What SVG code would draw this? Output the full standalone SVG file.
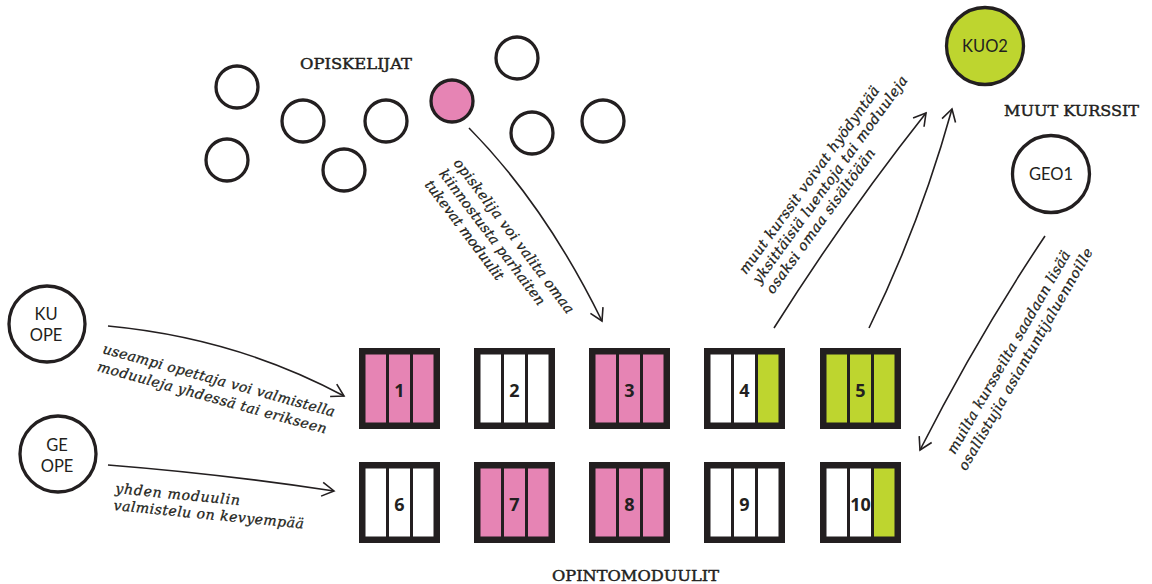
<svg xmlns="http://www.w3.org/2000/svg" width="1152" height="584" viewBox="0 0 1152 584">
  <style>
    .ring{fill:#fff;stroke:#231f20;stroke-width:3.3}
    .ring.pk{fill:#e684b4}
    .ring.gn{fill:#bed52f}
    .frame{fill:#231f20}
    .pk{fill:#e684b4}
    .gn{fill:#bed52f}
    .wt{fill:#fff}
    .num{font-family:"Open Sans","Liberation Sans",sans-serif;font-weight:700;font-size:18px;fill:#231f20;text-anchor:middle}
    .tag{font-family:Lato,"Open Sans","Liberation Sans",sans-serif;font-size:16.5px;fill:#231f20;text-anchor:middle}
    .head{font-family:"DejaVu Serif","Liberation Serif",serif;font-size:15px;fill:#231f20;stroke:#231f20;stroke-width:0.45}
    .note{font-family:"DejaVu Serif","Liberation Serif",serif;font-style:italic;font-size:14px;fill:#231f20;stroke:#231f20;stroke-width:0.3}
    .link{fill:none;stroke:#231f20;stroke-width:1.6}
  </style>
  <defs>
    <marker id="chev" markerUnits="userSpaceOnUse" markerWidth="16" markerHeight="16" refX="12" refY="7" orient="auto" viewBox="-1 -1 15 16">
      <path d="M0,0 L12,7 L0,14" fill="none" stroke="#231f20" stroke-width="1.6"/>
    </marker>
  </defs>
  <rect width="1152" height="584" fill="#fff"/>

  <!-- section headings -->
  <text class="head" x="300" y="69" textLength="112" lengthAdjust="spacingAndGlyphs">OPISKELIJAT</text>
  <text class="head" x="1004" y="116" textLength="135" lengthAdjust="spacingAndGlyphs">MUUT KURSSIT</text>
  <text class="head" x="552" y="581" font-size="14" textLength="167" lengthAdjust="spacingAndGlyphs">OPINTOMODUULIT</text>

  <!-- students -->
  <g id="students">
    <circle class="ring" cx="237" cy="87" r="21"/>
    <circle class="ring" cx="303" cy="121" r="21"/>
    <circle class="ring" cx="386" cy="121" r="21"/>
    <circle class="ring pk" cx="452" cy="101" r="21"/>
    <circle class="ring" cx="227" cy="160" r="21"/>
    <circle class="ring" cx="344" cy="170" r="21"/>
    <circle class="ring" cx="517" cy="58" r="21"/>
    <circle class="ring" cx="532" cy="133" r="21"/>
    <circle class="ring" cx="603" cy="121" r="21"/>
  </g>

  <!-- teachers -->
  <g id="ku-ope">
    <circle class="ring" cx="47" cy="324" r="38"/>
    <text class="tag" x="46" y="319.5">KU</text>
    <text class="tag" x="46" y="340.5">OPE</text>
  </g>
  <g id="ge-ope">
    <circle class="ring" cx="58" cy="454" r="38"/>
    <text class="tag" x="57" y="451">GE</text>
    <text class="tag" x="57" y="472">OPE</text>
  </g>

  <!-- other courses -->
  <g id="kuo2">
    <circle class="ring gn" cx="985" cy="46" r="38.5"/>
    <text class="tag" x="985" y="52">KUO2</text>
  </g>
  <g id="geo1">
    <circle class="ring" cx="1051" cy="174" r="38.5"/>
    <text class="tag" x="1051" y="180">GEO1</text>
  </g>

  <!-- study modules: black frame with three lecture slots -->
  <g id="module-1" transform="translate(359,348)">
    <rect class="frame" width="81" height="81"/>
    <rect class="pk" x="6.5" y="6.5" width="20.5" height="68"/>
    <rect class="pk" x="30" y="6.5" width="21" height="68"/>
    <rect class="pk" x="54" y="6.5" width="20.5" height="68"/>
    <text class="num" x="40.5" y="49">1</text>
  </g>
  <g id="module-2" transform="translate(474,348)">
    <rect class="frame" width="81" height="81"/>
    <rect class="wt" x="6.5" y="6.5" width="20.5" height="68"/>
    <rect class="wt" x="30" y="6.5" width="21" height="68"/>
    <rect class="wt" x="54" y="6.5" width="20.5" height="68"/>
    <text class="num" x="40.5" y="49">2</text>
  </g>
  <g id="module-3" transform="translate(589,348)">
    <rect class="frame" width="81" height="81"/>
    <rect class="pk" x="6.5" y="6.5" width="20.5" height="68"/>
    <rect class="pk" x="30" y="6.5" width="21" height="68"/>
    <rect class="pk" x="54" y="6.5" width="20.5" height="68"/>
    <text class="num" x="40.5" y="49">3</text>
  </g>
  <g id="module-4" transform="translate(704,348)">
    <rect class="frame" width="81" height="81"/>
    <rect class="wt" x="6.5" y="6.5" width="20.5" height="68"/>
    <rect class="wt" x="30" y="6.5" width="21" height="68"/>
    <rect class="gn" x="54" y="6.5" width="20.5" height="68"/>
    <text class="num" x="40.5" y="49">4</text>
  </g>
  <g id="module-5" transform="translate(820,348)">
    <rect class="frame" width="81" height="81"/>
    <rect class="gn" x="6.5" y="6.5" width="20.5" height="68"/>
    <rect class="gn" x="30" y="6.5" width="21" height="68"/>
    <rect class="gn" x="54" y="6.5" width="20.5" height="68"/>
    <text class="num" x="40.5" y="49">5</text>
  </g>
  <g id="module-6" transform="translate(359,462)">
    <rect class="frame" width="81" height="81"/>
    <rect class="wt" x="6.5" y="6.5" width="20.5" height="68"/>
    <rect class="wt" x="30" y="6.5" width="21" height="68"/>
    <rect class="wt" x="54" y="6.5" width="20.5" height="68"/>
    <text class="num" x="40.5" y="49">6</text>
  </g>
  <g id="module-7" transform="translate(474,462)">
    <rect class="frame" width="81" height="81"/>
    <rect class="pk" x="6.5" y="6.5" width="20.5" height="68"/>
    <rect class="pk" x="30" y="6.5" width="21" height="68"/>
    <rect class="pk" x="54" y="6.5" width="20.5" height="68"/>
    <text class="num" x="40.5" y="49">7</text>
  </g>
  <g id="module-8" transform="translate(589,462)">
    <rect class="frame" width="81" height="81"/>
    <rect class="pk" x="6.5" y="6.5" width="20.5" height="68"/>
    <rect class="pk" x="30" y="6.5" width="21" height="68"/>
    <rect class="pk" x="54" y="6.5" width="20.5" height="68"/>
    <text class="num" x="40.5" y="49">8</text>
  </g>
  <g id="module-9" transform="translate(704,462)">
    <rect class="frame" width="81" height="81"/>
    <rect class="wt" x="6.5" y="6.5" width="20.5" height="68"/>
    <rect class="wt" x="30" y="6.5" width="21" height="68"/>
    <rect class="wt" x="54" y="6.5" width="20.5" height="68"/>
    <text class="num" x="40.5" y="49">9</text>
  </g>
  <g id="module-10" transform="translate(820,462)">
    <rect class="frame" width="81" height="81"/>
    <rect class="wt" x="6.5" y="6.5" width="20.5" height="68"/>
    <rect class="wt" x="30" y="6.5" width="21" height="68"/>
    <rect class="gn" x="54" y="6.5" width="20.5" height="68"/>
    <text class="num" x="40.5" y="49">10</text>
  </g>

  <!-- connectors -->
  <g id="connectors">
    <path class="link" d="M469,128 Q545,205 602,321" marker-end="url(#chev)"/>
    <path class="link" d="M108,326 Q236,338 344,396" marker-end="url(#chev)"/>
    <path class="link" d="M108,465 Q222,474 334,491" marker-end="url(#chev)"/>
    <path class="link" d="M774,328 Q846,214 926,113" marker-end="url(#chev)"/>
    <path class="link" d="M869,328 Q920,224 952,109" marker-end="url(#chev)"/>
    <path class="link" d="M1045,236 Q978,336 920,450" marker-end="url(#chev)"/>
  </g>

  <!-- connector labels -->
  <g id="labels" class="note">
    <text transform="translate(453,163) rotate(53)">
      <tspan x="0" y="0" textLength="190">opiskelija voi valita omaa</tspan>
      <tspan x="0" y="18" textLength="166">kiinnostusta parhaiten</tspan>
      <tspan x="0" y="36" textLength="121">tukevat moduulit</tspan>
    </text>
    <text transform="translate(746,275) rotate(-54)">
      <tspan x="0" y="0" textLength="228">muut kurssit voivat hyödyntää</tspan>
      <tspan x="0" y="16.7" textLength="253">yksittäisiä luentoja tai moduuleja</tspan>
      <tspan x="0" y="33.4" textLength="175">osaksi omaa sisältöään</tspan>
    </text>
    <text transform="translate(1014,352.5) rotate(-60)" text-anchor="middle">
      <tspan x="0" y="0" textLength="232">muilta kursseilta saadaan lisää</tspan>
      <tspan x="0" y="18" textLength="254">osallistujia asiantuntijaluennoille</tspan>
    </text>
    <text transform="translate(102,353) rotate(15.4)">
      <tspan x="0" y="0" textLength="240">useampi opettaja voi valmistella</tspan>
      <tspan x="-0.5" y="18.5" textLength="237">moduuleja yhdessä tai erikseen</tspan>
    </text>
    <text transform="translate(115,493) rotate(5.6)">
      <tspan x="0" y="0" textLength="125">yhden moduulin</tspan>
      <tspan x="0" y="17" textLength="191">valmistelu on kevyempää</tspan>
    </text>
  </g>
</svg>
